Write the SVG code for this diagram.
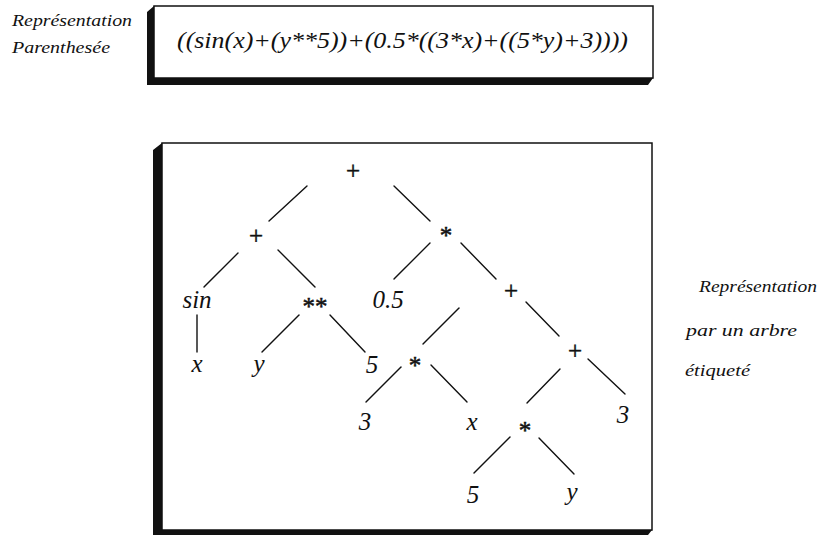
<svg xmlns="http://www.w3.org/2000/svg" width="822" height="535" viewBox="0 0 822 535">
<style>
text{font-family:'Liberation Serif','Times New Roman',serif;fill:#111}
.lbl{font-style:italic;font-size:16px}
.it{font-style:italic;font-size:25px;text-anchor:middle}
.op{font-size:25px;text-anchor:middle;stroke:#111;stroke-width:0.5}
.expr{font-style:italic;font-size:23px}
.frame{fill:#fff;stroke:#111;stroke-width:1.5}
.shadow{fill:#111}
.edge line{stroke:#111;stroke-width:1.4;stroke-linecap:round}
</style>
<rect width="822" height="535" fill="#fff"/>
<g id="label-parenthesee">
<text class="lbl" x="12" y="26" textLength="120" lengthAdjust="spacingAndGlyphs">Représentation</text>
<text class="lbl" x="12" y="53" textLength="98" lengthAdjust="spacingAndGlyphs">Parenthesée</text>
</g>
<g id="box-expression">
<polygon class="shadow" points="154,6 147,12 147,85 648,85 653,78 154,78"/>
<rect class="frame" x="154" y="6" width="499" height="72"/>
<text class="expr" x="177" y="48" textLength="451" lengthAdjust="spacingAndGlyphs">((sin(x)+(y**5))+(0.5*((3*x)+((5*y)+3))))</text>
</g>
<g id="box-tree">
<polygon class="shadow" points="162,143 153,150 153,535 648,535 652,530 162,530"/>
<rect class="frame" x="162" y="143" width="490" height="387"/>
</g>
<g id="label-arbre">
<text class="lbl" x="699" y="292" textLength="118" lengthAdjust="spacingAndGlyphs">Représentation</text>
<text class="lbl" x="686" y="336" textLength="111" lengthAdjust="spacingAndGlyphs">par un arbre</text>
<text class="lbl" x="685" y="376" textLength="65" lengthAdjust="spacingAndGlyphs">étiqueté</text>
</g>
<g id="connectors" class="edge">
<line x1="307" y1="186" x2="269" y2="221"/>
<line x1="394" y1="186" x2="430" y2="221"/>
<line x1="238" y1="253" x2="204" y2="287"/>
<line x1="278" y1="250" x2="315" y2="287"/>
<line x1="430" y1="243" x2="394" y2="279"/>
<line x1="461" y1="243" x2="496" y2="279"/>
<line x1="197" y1="315" x2="197" y2="352"/>
<line x1="299" y1="315" x2="262" y2="352"/>
<line x1="330" y1="315" x2="365" y2="352"/>
<line x1="459" y1="308" x2="423" y2="344"/>
<line x1="526" y1="302" x2="559" y2="336"/>
<line x1="401" y1="367" x2="366" y2="402"/>
<line x1="431" y1="365" x2="467" y2="402"/>
<line x1="560" y1="369" x2="527" y2="403"/>
<line x1="588" y1="359" x2="625" y2="394"/>
<line x1="510" y1="437" x2="474" y2="473"/>
<line x1="539" y1="438" x2="574" y2="474"/>
</g>
<g id="n-root"><text class="op" x="353" y="179">+</text></g>
<g id="n-plus-left"><text class="op" x="256" y="244">+</text></g>
<g id="n-mul"><text class="op" x="446" y="244">*</text></g>
<g id="n-sin"><text class="it" x="197" y="308">sin</text></g>
<g id="n-pow"><text class="op" x="315" y="315">**</text></g>
<g id="n-05"><text class="it" x="388" y="308">0.5</text></g>
<g id="n-plus-mid"><text class="op" x="511" y="299">+</text></g>
<g id="n-x1"><text class="it" x="197" y="372">x</text></g>
<g id="n-y1"><text class="it" x="259" y="372">y</text></g>
<g id="n-5a"><text class="it" x="372" y="373">5</text></g>
<g id="n-mul-mid"><text class="op" x="415" y="374">*</text></g>
<g id="n-plus-right"><text class="op" x="575" y="359">+</text></g>
<g id="n-3a"><text class="it" x="365" y="430">3</text></g>
<g id="n-x2"><text class="it" x="472" y="430">x</text></g>
<g id="n-mul-low"><text class="op" x="525" y="439">*</text></g>
<g id="n-3b"><text class="it" x="623" y="423">3</text></g>
<g id="n-5b"><text class="it" x="473" y="503">5</text></g>
<g id="n-y2"><text class="it" x="572" y="500">y</text></g>
</svg>
